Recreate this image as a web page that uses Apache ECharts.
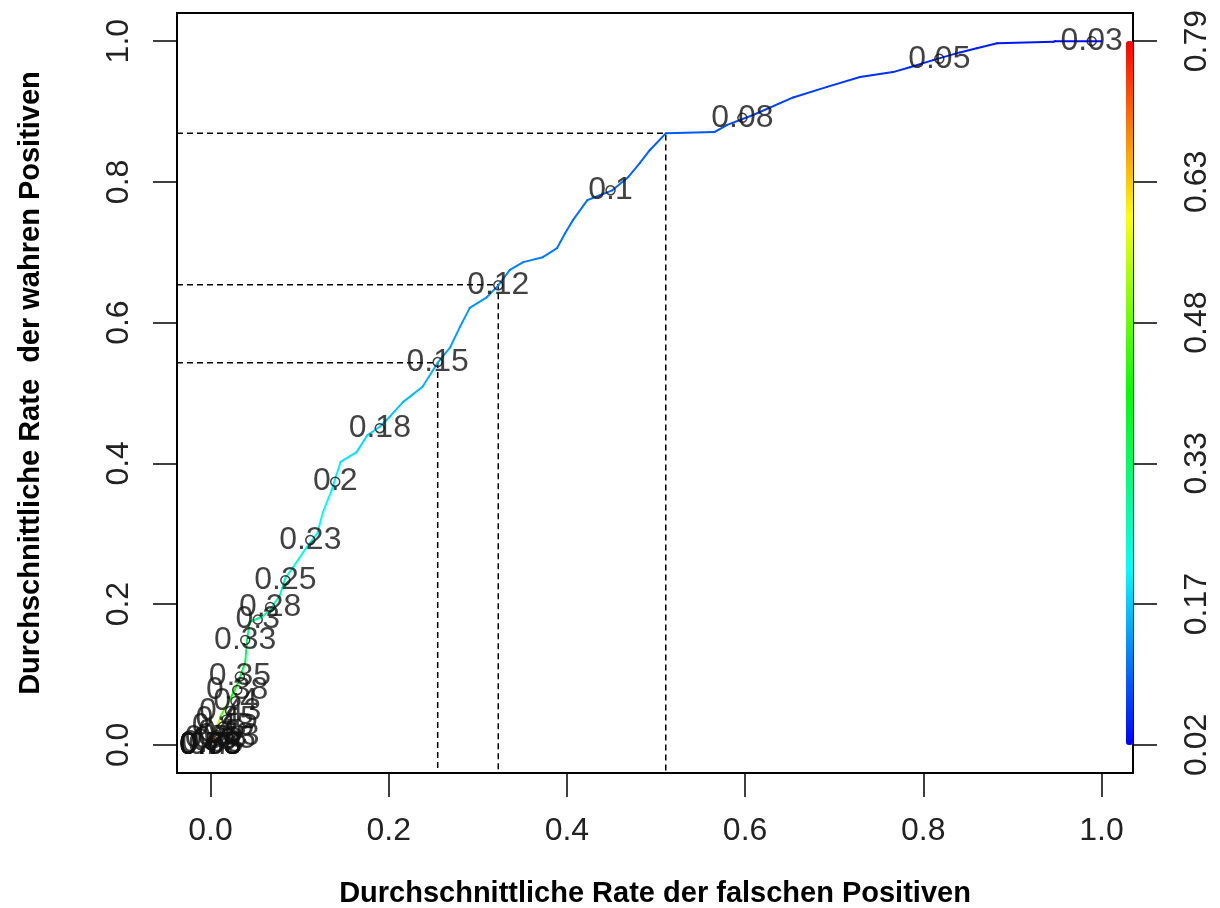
<!DOCTYPE html>
<html>
<head>
<meta charset="utf-8">
<script src="https://cdn.jsdelivr.net/npm/echarts@6/dist/echarts.min.js"></script>
<style>
html,body{margin:0;padding:0;background:#fff;}
#chart{width:1220px;height:908px;}
</style>
</head>
<body>
<div id="chart"></div>
<script>
// ROC curve points (false positive rate, true positive rate, cutoff)
const rocFpr = [0, 0.005, 0.011, 0.020, 0.031, 0.039, 0.041, 0.044, 0.058, 0.067, 0.078, 0.084, 0.093, 0.108, 0.120, 0.126, 0.136, 0.146, 0.164, 0.176, 0.190, 0.201, 0.216, 0.238, 0.255, 0.269, 0.280, 0.291, 0.310, 0.323, 0.336, 0.351, 0.373, 0.389, 0.398, 0.407, 0.423, 0.437, 0.451, 0.469, 0.482, 0.493, 0.511, 0.566, 0.580, 0.609, 0.654, 0.692, 0.729, 0.766, 0.785, 0.811, 0.841, 0.860, 0.883, 0.946, 0.948, 1.0];
const rocTpr = [0, 0.014, 0.040, 0.060, 0.088, 0.118, 0.149, 0.175, 0.182, 0.192, 0.213, 0.237, 0.253, 0.281, 0.301, 0.330, 0.362, 0.402, 0.416, 0.440, 0.452, 0.466, 0.487, 0.509, 0.543, 0.565, 0.594, 0.621, 0.636, 0.653, 0.675, 0.686, 0.693, 0.706, 0.727, 0.746, 0.774, 0.781, 0.788, 0.807, 0.827, 0.845, 0.869, 0.871, 0.881, 0.895, 0.920, 0.935, 0.949, 0.956, 0.963, 0.973, 0.984, 0.990, 0.997, 0.999, 1.0, 1.0];
const rocCutoff = [0.79, 0.6, 0.5, 0.43, 0.38, 0.35, 0.33, 0.31, 0.295, 0.28, 0.265, 0.25, 0.24, 0.23, 0.22, 0.215, 0.205, 0.197, 0.19, 0.183, 0.175, 0.17, 0.165, 0.158, 0.15, 0.143, 0.138, 0.134, 0.129, 0.125, 0.12, 0.116, 0.113, 0.11, 0.108, 0.106, 0.103, 0.101, 0.1, 0.097, 0.095, 0.093, 0.09, 0.082, 0.08, 0.075, 0.068, 0.063, 0.058, 0.055, 0.053, 0.05, 0.046, 0.043, 0.04, 0.033, 0.032, 0.02];

// Printed cutoff labels
const cutLabels = ['0.03', '0.05', '0.08', '0.1', '0.12', '0.15', '0.18', '0.2', '0.23', '0.25', '0.28', '0.3', '0.33', '0.35', '0.38', '0.4', '0.43', '0.45', '0.48', '0.5', '0.53', '0.55', '0.58', '0.6', '0.63', '0.65', '0.68', '0.7', '0.73', '0.75', '0.78'];
const cutFpr = [0.989, 0.818, 0.597, 0.449, 0.323, 0.255, 0.190, 0.140, 0.112, 0.084, 0.067, 0.053, 0.039, 0.033, 0.030, 0.028, 0.022, 0.018, 0.014, 0.011, 0.020, 0.016, 0.006, 0.004, 0.002, 0.0, 0.0, 0.0, 0.0, 0.0, 0.0];
const cutTpr = [1.0, 0.975, 0.891, 0.788, 0.653, 0.544, 0.450, 0.374, 0.291, 0.234, 0.196, 0.178, 0.149, 0.097, 0.078, 0.062, 0.048, 0.036, 0.026, 0.018, 0.012, 0.008, 0.010, 0.005, 0.003, 0.0, 0.0, 0.0, 0.0, 0.0, 0.0];

// Reference (dashed) points
const refFpr = [0.255, 0.323, 0.511];
const refTpr = [0.543, 0.654, 0.869];

// Axis ticks
const xTicks = [0, 0.2, 0.4, 0.6, 0.8, 1.0];
const xTickLabels = ['0.0', '0.2', '0.4', '0.6', '0.8', '1.0'];
const yTicks = [0, 0.2, 0.4, 0.6, 0.8, 1.0];
const yTickLabels = ['0.0', '0.2', '0.4', '0.6', '0.8', '1.0'];
const colorbarLabels = ['0.02', '0.17', '0.33', '0.48', '0.63', '0.79'];
const cutMin = 0.02, cutMax = 0.79;

const xMin = -0.0376, xMax = 1.0354, yMin = -0.04, yMax = 1.04;

function lookup(ticks, labels, v) {
  for (let i = 0; i < ticks.length; i++) if (Math.abs(ticks[i] - v) < 1e-6) return labels[i];
  return '';
}

const segData = [];
for (let i = 0; i < rocFpr.length - 1; i++) {
  segData.push([rocFpr[i], rocTpr[i], rocFpr[i + 1], rocTpr[i + 1], (rocCutoff[i] + rocCutoff[i + 1]) / 2]);
}
const labelData = cutLabels.map((t, i) => [cutFpr[i], cutTpr[i], t]);

const FONT = 'Liberation Sans, Arial, Helvetica, sans-serif';

const series = [{
  type: 'custom',
  data: segData,
  encode: { x: [0, 2], y: [1, 3] },
  renderItem: function (params, api) {
    const p1 = api.coord([api.value(0), api.value(1)]);
    const p2 = api.coord([api.value(2), api.value(3)]);
    return {
      type: 'line',
      shape: { x1: p1[0], y1: p1[1], x2: p2[0], y2: p2[1] },
      style: { stroke: api.visual('color'), lineWidth: 2, lineCap: 'round' }
    };
  },
  silent: true,
  z: 3
}];

refFpr.forEach((f, i) => {
  series.push({
    type: 'line',
    data: [[xMin, refTpr[i]], [f, refTpr[i]], [f, yMin]],
    symbol: 'none',
    lineStyle: { color: '#000', width: 1.5, type: [6, 4] },
    silent: true,
    z: 2
  });
});

series.push({
  type: 'scatter',
  data: labelData,
  symbol: 'circle',
  symbolSize: 9,
  itemStyle: { color: 'rgba(0,0,0,0)', borderColor: '#111', borderWidth: 1.5 },
  label: {
    show: true,
    position: 'inside',
    formatter: p => p.data[2],
    color: '#111',
    fontSize: 32,
    fontFamily: FONT
  },
  silent: true,
  z: 4
});

const tickLabelStyle = { color: '#222', fontSize: 32, fontFamily: FONT };

const option = {
  animation: false,
  backgroundColor: '#fff',
  grid: {
    left: 177, top: 13, right: 87, bottom: 135,
    show: true, borderColor: '#000', borderWidth: 2, backgroundColor: 'transparent',
    outerBoundsMode: 'none'
  },
  xAxis: {
    type: 'value', min: xMin, max: xMax,
    name: 'Durchschnittliche Rate der falschen Positiven',
    nameLocation: 'middle', nameGap: 106, nameMoveOverlap: false,
    nameTextStyle: { color: '#000', fontSize: 29, fontWeight: 'bold', fontFamily: FONT },
    axisLine: { show: false, onZero: false },
    splitLine: { show: false },
    axisTick: { show: true, inside: false, length: 24, customValues: xTicks, lineStyle: { color: '#000', width: 1.5 } },
    axisLabel: Object.assign({ customValues: xTicks, margin: 42, formatter: v => lookup(xTicks, xTickLabels, v) }, tickLabelStyle)
  },
  yAxis: [{
    type: 'value', min: yMin, max: yMax,
    name: 'Durchschnittliche Rate  der wahren Positiven',
    nameLocation: 'middle', nameGap: 132, nameRotate: 90, nameMoveOverlap: false,
    nameTextStyle: { color: '#000', fontSize: 29, fontWeight: 'bold', fontFamily: FONT, padding: [0, 0, 0, 20] },
    axisLine: { show: false, onZero: false },
    splitLine: { show: false },
    axisTick: { show: true, length: 24, customValues: yTicks, lineStyle: { color: '#000', width: 1.5 } },
    axisLabel: Object.assign({ customValues: yTicks, rotate: 90, margin: 42, formatter: v => lookup(yTicks, yTickLabels, v) }, tickLabelStyle)
  }, {
    type: 'value', min: yMin, max: yMax, position: 'right',
    axisLine: { show: false, onZero: false },
    splitLine: { show: false },
    axisTick: { show: true, length: 24, customValues: yTicks, lineStyle: { color: '#000', width: 1.5 } },
    axisLabel: Object.assign({ customValues: yTicks, rotate: 90, margin: 48, formatter: v => lookup(yTicks, colorbarLabels, v) }, tickLabelStyle)
  }],
  visualMap: {
    type: 'continuous',
    seriesIndex: 0,
    dimension: 4,
    min: cutMin, max: cutMax,
    calculable: false,
    hoverLink: false,
    text: null,
    padding: 0,
    right: 87, top: 41,
    itemWidth: 7, itemHeight: 704,
    inRange: { color: ['#0000ff', '#0080ff', '#00ffff', '#00ff80', '#00ff00', '#80ff00', '#ffff00', '#ff8000', '#ff0000'] }
  },
  series: series
};

const chart = echarts.init(document.getElementById('chart'), null, { renderer: 'canvas' });
chart.setOption(option);
</script>
</body>
</html>
